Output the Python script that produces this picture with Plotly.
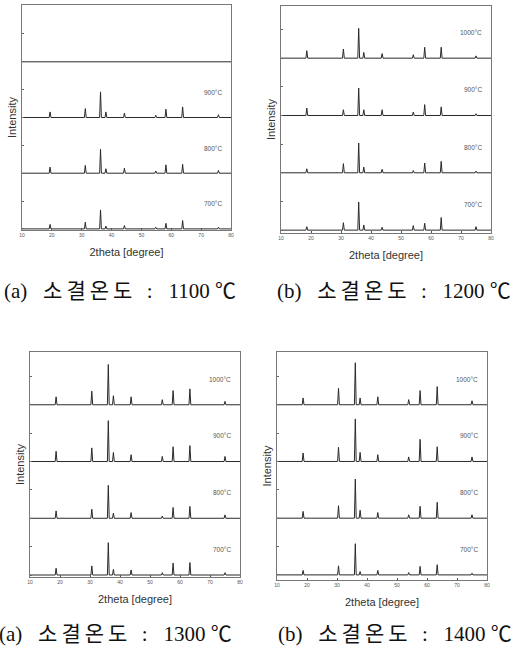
import plotly.graph_objects as go

W, H = 513, 660

temps = ["700°C", "800°C", "900°C", "1000°C"]
x_ticks = [10, 20, 30, 40, 50, 60, 70, 80]
captions = ["(a) 소결온도 : 1100 ℃", "(b) 소결온도 : 1200 ℃",
            "(a) 소결온도 : 1300 ℃", "(b) 소결온도 : 1400 ℃"]

# peak positions (2theta) per panel
peaks_a = [19.4, 31.2, 36.3, 38.1, 44.3, 54.8, 58.2, 63.8, 75.8]
peaks_b = [18.6, 30.8, 35.9, 37.6, 43.7, 54.1, 57.9, 63.4, 75.0]
peaks_c = [18.7, 30.6, 36.1, 37.8, 43.7, 54.1, 57.7, 63.3, 75.0]
peaks_d = [18.7, 30.5, 36.1, 37.7, 43.6, 53.9, 57.7, 63.4, 75.0]

# peak heights (fraction of one stacking slot)
a_700 = [0.08, 0.12, 0.34, 0.05, 0.06, 0.03, 0.10, 0.15, 0.03]
a_800 = [0.11, 0.14, 0.43, 0.08, 0.09, 0.04, 0.15, 0.16, 0.05]
a_900 = [0.10, 0.16, 0.46, 0.10, 0.08, 0.04, 0.15, 0.19, 0.05]
a_1000 = None

b_700 = [0.06, 0.13, 0.49, 0.09, 0.05, 0.08, 0.12, 0.22, 0.06]
b_800 = [0.07, 0.16, 0.52, 0.10, 0.06, 0.04, 0.17, 0.20, 0.03]
b_900 = [0.13, 0.10, 0.48, 0.10, 0.10, 0.06, 0.19, 0.15, 0.03]
b_1000 = [0.13, 0.16, 0.52, 0.10, 0.08, 0.06, 0.19, 0.19, 0.04]

c_700 = [0.12, 0.16, 0.57, 0.10, 0.09, 0.04, 0.21, 0.22, 0.04]
c_800 = [0.13, 0.16, 0.58, 0.09, 0.10, 0.04, 0.19, 0.21, 0.06]
c_900 = [0.18, 0.24, 0.72, 0.16, 0.12, 0.09, 0.26, 0.28, 0.09]
c_1000 = [0.14, 0.24, 0.71, 0.16, 0.14, 0.09, 0.25, 0.28, 0.06]

d_700 = [0.08, 0.16, 0.55, 0.06, 0.08, 0.04, 0.15, 0.18, 0.03]
d_800 = [0.12, 0.22, 0.69, 0.14, 0.10, 0.06, 0.21, 0.28, 0.06]
d_900 = [0.15, 0.25, 0.75, 0.16, 0.12, 0.08, 0.39, 0.26, 0.08]
d_1000 = [0.12, 0.29, 0.74, 0.12, 0.14, 0.09, 0.25, 0.32, 0.07]

# layout of the four panels (pixel boxes: left, right, top, bottom)
panels = [
    dict(peaks=peaks_a, series=[a_700, a_800, a_900, a_1000], box=(22, 231, 5, 230), yr=(-0.02, 4.02),
         cap_x=2, cap_y=291),
    dict(peaks=peaks_b, series=[b_700, b_800, b_900, b_1000], box=(281, 491, 6, 233), yr=(-0.05, 3.91),
         cap_x=275, cap_y=291),
    dict(peaks=peaks_c, series=[c_700, c_800, c_900, c_1000], box=(30, 240, 352, 577), yr=(-0.035, 3.93),
         cap_x=-3, cap_y=634),
    dict(peaks=peaks_d, series=[d_700, d_800, d_900, d_1000], box=(277, 487, 352, 580), yr=(-0.09, 3.93),
         cap_x=276, cap_y=634),
]

HALF = 0.3
LINE = "#2a2a2a"
NB = "\u00a0"


def spaced(text):
    # widen the gaps like the scanned caption
    head, rest = text.split(" ", 1)
    word, colon, num, unit = rest.split(" ")
    return (head + NB * 3 + '<span style="letter-spacing:4px">' + word + "</span>"
            + NB * 2 + colon + NB * 3 + num + NB + unit)


fig = go.Figure()
annotations = []
layout_axes = {}

for i, p in enumerate(panels, start=1):
    xa = "x" if i == 1 else f"x{i}"
    ya = "y" if i == 1 else f"y{i}"
    for k, hs in enumerate(p["series"]):
        xs, ys = [10], [k]
        if hs is not None:
            for pos, h in zip(p["peaks"], hs):
                xs += [pos - HALF, pos, pos + HALF]
                ys += [k, k + h, k]
        xs.append(80)
        ys.append(k)
        fig.add_trace(go.Scatter(x=xs, y=ys, mode="lines", xaxis=xa, yaxis=ya,
                                 line=dict(color=LINE, width=1), showlegend=False,
                                 hoverinfo="skip"))
        if hs is not None:
            annotations.append(dict(x=77.5, y=k + 0.45, xref=xa, yref=ya, text=temps[k],
                                    showarrow=False, xanchor="right", yanchor="middle",
                                    font=dict(family="Liberation Sans, Arial", size=6.5, color="#555")))
    l, r, t, b = p["box"]
    key = "" if i == 1 else str(i)
    layout_axes[f"xaxis{key}"] = dict(
        domain=[l / W, r / W], range=[10, 80], anchor=ya, showline=True, mirror=True,
        linecolor="#777", linewidth=1, ticks="inside", ticklen=2, tickcolor="#555",
        tickvals=x_ticks, tickfont=dict(size=5, color="#555", family="Liberation Sans"),
        showgrid=False, zeroline=False, automargin=False,
        title=dict(text="2theta [degree]", standoff=11,
                   font=dict(family="Liberation Sans, Arial", size=11, color="#333")))
    layout_axes[f"yaxis{key}"] = dict(
        domain=[1 - b / H, 1 - t / H], range=list(p["yr"]), anchor=xa, showline=True, mirror=True,
        linecolor="#777", linewidth=1, ticks="inside", ticklen=2, tickcolor="#666",
        tickvals=[0, 0.5, 1, 1.5, 2, 2.5, 3, 3.5], showticklabels=False,
        showgrid=False, zeroline=False, automargin=False,
        title=dict(text="Intensity", standoff=2,
                   font=dict(family="Liberation Sans, Arial", size=11, color="#333")))
    annotations.append(dict(x=p["cap_x"] / W, y=1 - p["cap_y"] / H, xref="paper", yref="paper",
                            text=spaced(captions[i - 1]), showarrow=False,
                            xanchor="left", yanchor="middle",
                            font=dict(family="Liberation Serif, Noto Sans CJK KR", size=21, color="#111")))

fig.update_layout(width=W, height=H, margin=dict(l=0, r=0, t=0, b=0),
                  paper_bgcolor="white", plot_bgcolor="white",
                  annotations=annotations, **layout_axes)

fig.write_html("out.html")
